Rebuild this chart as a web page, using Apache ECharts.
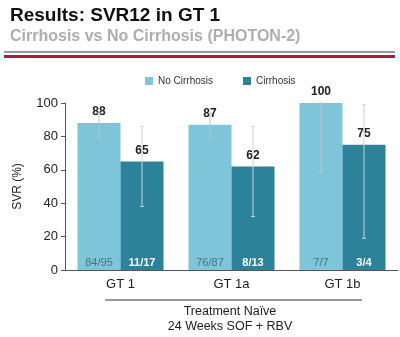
<!DOCTYPE html>
<html>
<head>
<meta charset="utf-8">
<script src="https://cdn.jsdelivr.net/npm/echarts@6/dist/echarts.min.js"></script>
<style>html,body{margin:0;padding:0;background:#fff}#c{width:400px;height:337px}</style>
</head>
<body>
<div id="c"></div>
<script>
var categories = ['GT 1', 'GT 1a', 'GT 1b'];
var seriesNames = ['No Cirrhosis', 'Cirrhosis'];
var noCirrhosis = [88, 87, 100];
var cirrhosis = [65, 62, 75];
var noCirrhosisCI = [[80, 94], [78, 94], [59, 100]];
var cirrhosisCI = [[38, 86], [32, 86], [19, 99]];
var noCirrhosisN = ['84/95', '76/87', '7/7'];
var cirrhosisN = ['11/17', '8/13', '3/4'];
var yTicks = [0, 20, 40, 60, 80, 100];

var LIGHT = '#7fc5da', DARK = '#2b8299';
var BW = 43;
var FONT = 'Liberation Sans, Arial, sans-serif';

function errSeries(ci, offset, color) {
  return {
    type: 'custom', z: 5, silent: true,
    data: ci.map(function (d, i) { return [i, d[0], d[1]]; }),
    renderItem: function (params, api) {
      var lo = api.coord([api.value(0), api.value(1)]);
      var hi = api.coord([api.value(0), api.value(2)]);
      var x = lo[0] + offset;
      return { type: 'group', children: [
        { type: 'line', shape: { x1: x, y1: lo[1], x2: x, y2: hi[1] }, style: { stroke: color, lineWidth: 1 } },
        { type: 'line', shape: { x1: x - 2, y1: lo[1], x2: x + 2, y2: lo[1] }, style: { stroke: color, lineWidth: 1 } },
        { type: 'line', shape: { x1: x - 2, y1: hi[1], x2: x + 2, y2: hi[1] }, style: { stroke: color, lineWidth: 1 } }
      ] };
    }
  };
}
function nSeries(labels, offset, color, weight) {
  return {
    type: 'custom', z: 6, silent: true,
    data: labels.map(function (t, i) { return [i, 0, t]; }),
    renderItem: function (params, api) {
      var p = api.coord([api.value(0), 0]);
      return { type: 'text', style: { x: p[0] + offset, y: p[1] - 7, text: labels[params.dataIndex], fill: color,
        font: weight + ' 11px ' + FONT, align: 'center', verticalAlign: 'middle' } };
    }
  };
}

var chart = echarts.init(document.getElementById('c'), null, { renderer: 'canvas' });
chart.setOption({
  animation: false,
  backgroundColor: '#fff',
  textStyle: { fontFamily: FONT },
  legend: {
    data: seriesNames, top: 71, left: 140, itemWidth: 8, itemHeight: 8, itemGap: 30,
    icon: 'rect', textStyle: { fontSize: 10, color: '#333', fontFamily: FONT }
  },
  grid: { left: 65, right: 2, top: 103, bottom: 67 },
  xAxis: {
    type: 'category', data: categories,
    axisLine: { lineStyle: { color: '#555' } }, axisTick: { show: false },
    axisLabel: { fontSize: 13, color: '#222', margin: 8, fontFamily: FONT }
  },
  yAxis: {
    type: 'value', min: 0, max: 100, interval: 20,
    name: 'SVR (%)', nameLocation: 'middle', nameGap: 41,
    nameTextStyle: { fontSize: 12, color: '#222', fontFamily: FONT },
    axisLine: { show: true, lineStyle: { color: '#555' } },
    axisTick: { show: true, length: 4, lineStyle: { color: '#555' } },
    splitLine: { show: false },
    axisLabel: { fontSize: 13, color: '#222', margin: 7, fontFamily: FONT,
      formatter: function (v) { return yTicks.indexOf(v) >= 0 ? String(v) : ''; } }
  },
  series: [
    { name: seriesNames[0], type: 'bar', data: noCirrhosis, barWidth: BW, barGap: '0%', itemStyle: { color: LIGHT },
      label: { show: true, position: 'top', distance: 5, fontSize: 12, fontWeight: 'bold', color: '#222', fontFamily: FONT } },
    { name: seriesNames[1], type: 'bar', data: cirrhosis, barWidth: BW, itemStyle: { color: DARK },
      label: { show: true, position: 'top', distance: 5, fontSize: 12, fontWeight: 'bold', color: '#222', fontFamily: FONT } },
    errSeries(noCirrhosisCI, -BW / 2, '#b9c3c7'),
    errSeries(cirrhosisCI, BW / 2, '#c9d3d6'),
    nSeries(noCirrhosisN, -BW / 2, '#4d7382', 'normal'),
    nSeries(cirrhosisN, BW / 2, '#ffffff', 'bold')
  ],
  graphic: [
    { type: 'text', left: 10, top: 6, style: { text: 'Results: SVR12 in GT 1', font: 'bold 19px ' + FONT, fill: '#111' } },
    { type: 'text', left: 10, top: 29, style: { text: 'Cirrhosis vs No Cirrhosis (PHOTON-2)', font: 'bold 16px ' + FONT, fill: '#aeaeae' } },
    { type: 'rect', shape: { x: 4, y: 51, width: 391, height: 2 }, style: { fill: '#9a9a9a' } },
    { type: 'rect', shape: { x: 4, y: 55, width: 391, height: 3 }, style: { fill: '#a5203a' } },
    { type: 'line', shape: { x1: 105, y1: 300, x2: 362, y2: 300 }, style: { stroke: '#333', lineWidth: 1 } },
    { type: 'text', x: 230, y: 312, style: { text: 'Treatment Naïve', font: '12.5px ' + FONT, fill: '#222', align: 'center', verticalAlign: 'middle' } },
    { type: 'text', x: 230, y: 327, style: { text: '24 Weeks SOF + RBV', font: '12.5px ' + FONT, fill: '#222', align: 'center', verticalAlign: 'middle' } }
  ]
});
</script>
</body>
</html>
